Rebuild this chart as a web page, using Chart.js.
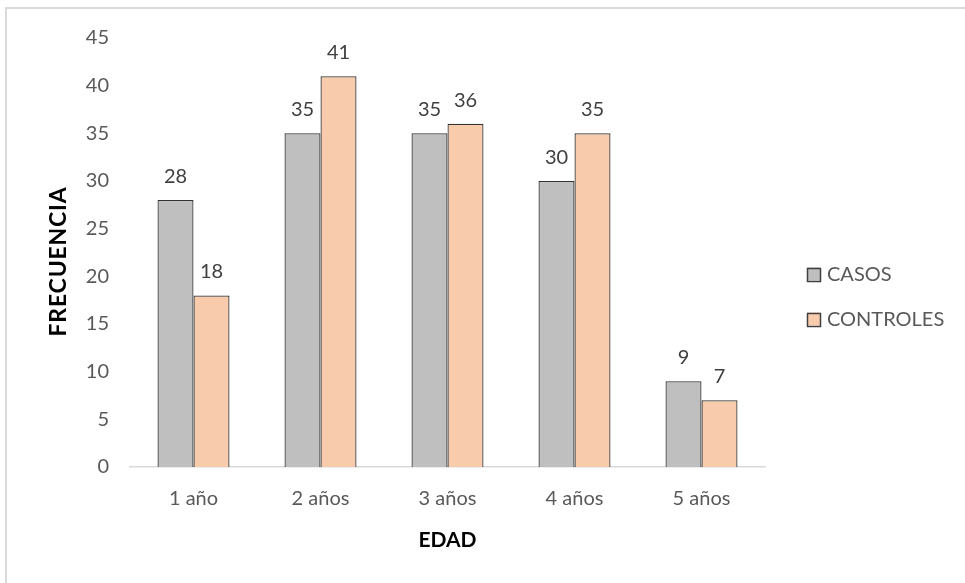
<!DOCTYPE html>
<html>
<head>
<meta charset="utf-8">
<script src="https://cdn.jsdelivr.net/npm/chart.js@4/dist/chart.umd.min.js"></script>
<style>
  html, body { margin: 0; padding: 0; background: #ffffff; }
  #wrap { position: relative; width: 965px; height: 583px; overflow: hidden; }
  #frame { position: absolute; left: 5px; top: 7px; width: 990px; height: 600px;
           border-top: 2px solid #d9d9d9; border-left: 2px solid #d9d9d9; }
  canvas { position: absolute; left: 0; top: 0; }
</style>
</head>
<body>
<div id="wrap">
  <div id="frame"></div>
  <canvas id="chart" width="965" height="583"></canvas>
</div>
<script>
// Age groups and counts per group
const categories = ['1 año', '2 años', '3 años', '4 años', '5 años'];
const casos = [28, 35, 35, 30, 9];
const controles = [18, 41, 36, 35, 7];
const seriesNames = ['CASOS', 'CONTROLES'];
const seriesColors = ['#bfbfbf', '#f8cbad'];
const yMax = 45;
const yStep = 5;

const FONT = 'Lato, "Open Sans", "Liberation Sans", sans-serif';

// Value above each bar
const barValueLabels = {
  id: 'barValueLabels',
  afterDatasetsDraw(chart) {
    const ctx = chart.ctx;
    ctx.save();
    ctx.font = '20px ' + FONT;
    ctx.fillStyle = '#404040';
    ctx.textAlign = 'center';
    ctx.textBaseline = 'alphabetic';
    chart.data.datasets.forEach((ds, di) => {
      const meta = chart.getDatasetMeta(di);
      meta.data.forEach((bar, i) => {
        ctx.fillText(String(ds.data[i]), bar.x, bar.y - 17);
      });
    });
    ctx.restore();
  }
};

// Legend at the right, drawn from the datasets
const sideLegend = {
  id: 'sideLegend',
  afterDraw(chart) {
    const ctx = chart.ctx;
    const area = chart.chartArea;
    const x0 = area.right + 42;
    const yMid = (area.top + area.bottom) / 2 + 44;
    const gap = 45;
    const box = 13;
    ctx.save();
    ctx.font = '20px ' + FONT;
    ctx.textAlign = 'left';
    ctx.textBaseline = 'middle';
    const n = chart.data.datasets.length;
    chart.data.datasets.forEach((ds, i) => {
      const cy = yMid + (i - (n - 1) / 2) * gap;
      ctx.fillStyle = ds.backgroundColor;
      ctx.fillRect(x0, cy - box / 2, box, box);
      ctx.strokeStyle = '#404040';
      ctx.lineWidth = 1.5;
      ctx.strokeRect(x0 + 0.5, Math.round(cy - box / 2) + 0.5, box, box);
      ctx.fillStyle = '#595959';
      ctx.fillText(ds.label, x0 + 20, cy + 1);
    });
    ctx.restore();
  }
};

// Slight tracking and a small downward shift for the vertical axis title
const yTitleStyle = {
  id: 'yTitleStyle',
  afterLayout(chart) {
    const scale = chart.scales.y;
    if (scale._styledTitle) return;
    const orig = scale.drawTitle;
    scale.drawTitle = function () {
      const ctx = this.ctx;
      ctx.save();
      ctx.letterSpacing = '0.8px';
      ctx.translate(0, 9);
      orig.call(this);
      ctx.restore();
    };
    scale._styledTitle = true;
  }
};

new Chart(document.getElementById('chart'), {
  type: 'bar',
  data: {
    labels: categories,
    datasets: [
      { label: seriesNames[0], data: casos, backgroundColor: seriesColors[0] },
      { label: seriesNames[1], data: controles, backgroundColor: seriesColors[1] }
    ]
  },
  options: {
    responsive: false,
    animation: false,
    devicePixelRatio: 1,
    layout: { padding: { left: 0, right: 200, top: 38, bottom: 0 } },
    datasets: {
      bar: {
        borderColor: '#333333',
        borderWidth: 1.25,
        borderSkipped: 'start',
        categoryPercentage: 0.567,
        barPercentage: 1.0
      }
    },
    plugins: {
      legend: { display: false },
      tooltip: { enabled: false }
    },
    scales: {
      x: {
        grid: { display: false, drawTicks: false },
        border: { display: true, color: '#d9d9d9', width: 1.5 },
        ticks: { color: '#595959', font: { family: FONT, size: 20 }, padding: 20 },
        title: {
          display: true, text: 'EDAD', color: '#000000',
          font: { family: FONT, size: 21, weight: 'bold' },
          padding: { top: 0, bottom: 30 }
        },
        afterFit(scale) { scale.height = 116; }
      },
      y: {
        min: 0,
        max: yMax,
        grid: { display: false, drawTicks: false },
        border: { display: false },
        ticks: { stepSize: yStep, color: '#595959', font: { family: FONT, size: 20 }, padding: 21 },
        title: {
          display: true, text: 'FRECUENCIA', color: '#000000',
          font: { family: FONT, size: 23, weight: 'bold' },
          padding: { top: 45, bottom: 0 }
        },
        afterFit(scale) { scale.width = 130; }
      }
    }
  },
  plugins: [barValueLabels, sideLegend, yTitleStyle]
});
</script>
</body>
</html>
